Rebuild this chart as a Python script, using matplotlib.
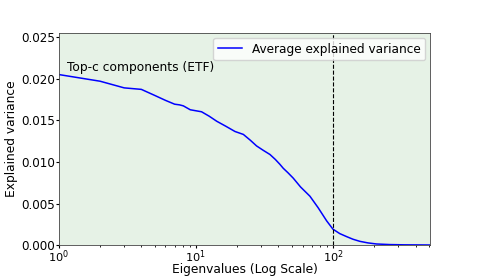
import matplotlib.pyplot as plt

# points
eig_idx = [1, 2, 3, 4, 5, 6, 7, 7.6, 8.1, 9.1, 11, 12.5, 14.2, 16.5, 19.3, 22.2,
           25, 27.7, 31, 34.7, 38, 41, 43.4, 47, 51.3, 58, 67.9, 78, 90, 100,
           112, 126, 140, 157, 180, 208, 260, 330, 420, 512]
avg_var = [0.0205, 0.0197, 0.0189, 0.01872, 0.0180, 0.0174, 0.01694, 0.01686, 0.01674,
           0.01627, 0.01603, 0.0155, 0.01489, 0.0143, 0.01366, 0.01331,
           0.0126, 0.01193, 0.0114, 0.01090, 0.0103, 0.00972, 0.00924, 0.0087, 0.00806,
           0.0070, 0.00589, 0.0045, 0.00292, 0.00193,
           0.00140, 0.00103, 0.00072, 0.00047, 0.00028, 0.00015, 0.00008, 0.00005, 0.00004, 0.00003]

n_classes = 100

fig = plt.figure(figsize=(4.78, 2.79), dpi=100)
ax = fig.add_axes([0.123, 0.121, 0.777, 0.761])
ax.set_facecolor('#e6f2e6')
ax.plot(eig_idx, avg_var, color='blue', lw=1.1, label='Average explained variance')
ax.axvline(n_classes, color='black', ls='--', lw=0.8)
ax.set_xscale('log')
ax.set_xlim(1, 512)
ax.set_ylim(0, 0.0255)
ax.set_yticks([0, 0.005, 0.010, 0.015, 0.020, 0.025])
ax.text(1.15, 0.0209, 'Top-c components (ETF)', fontsize=8.8)
ax.set_xlabel('Eigenvalues (Log Scale)', fontsize=8.8)
ax.xaxis.set_label_coords(0.5, -0.085)
ax.set_ylabel('Explained variance', fontsize=8.8, labelpad=2)
ax.tick_params(labelsize=8.6, length=2, pad=1)
ax.tick_params(axis='x', labelsize=8.2, pad=0)
ax.tick_params(which='minor', length=1.2)
for s in ax.spines.values():
    s.set_linewidth(0.6)
    s.set_color('#444444')
ax.legend(loc='upper right', fontsize=8.7, borderaxespad=0.4)
fig.savefig('out.png', dpi=100)
